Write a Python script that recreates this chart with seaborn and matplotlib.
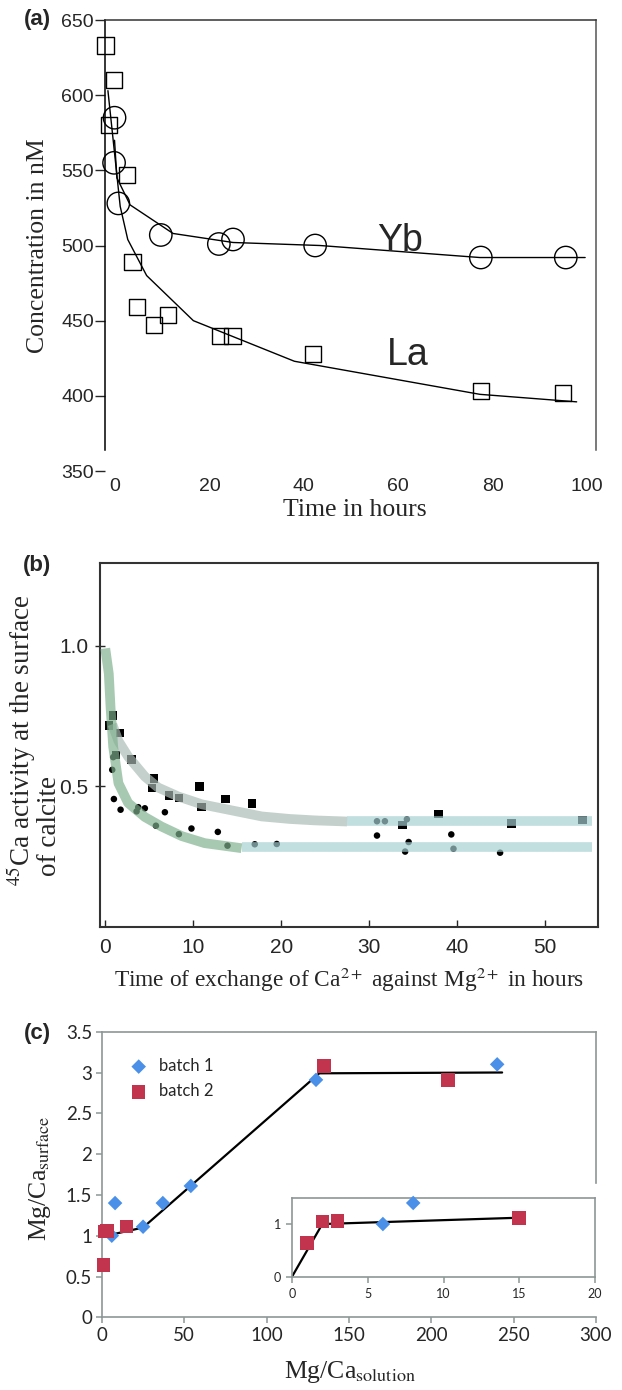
import numpy as np
import pandas as pd
import matplotlib
matplotlib.use("Agg")
import matplotlib.pyplot as plt
import seaborn as sns

sns.set_style("white")
plt.rcParams["font.family"] = ["Liberation Sans", "DejaVu Sans"]
plt.rcParams["mathtext.fontset"] = "stix"

# ---------------- data: panel (a) ----------------
la_time = [-2.0, -0.3, -1.3, 2.5, 3.7, 4.7, 8.3, 11.3, 22.2, 24.9, 42.0, 77.5, 95.0]
la_conc = [633, 610, 580, 547, 489, 459, 447, 454, 440, 440, 428, 403, 402]
yb_time = [-0.1, -0.2, 0.7, 9.7, 22.0, 25.0, 42.4, 77.5, 95.5]
yb_conc = [585, 555, 528, 507, 501, 504, 500, 492, 492]
la_fit_time = [-1.5, 1.1, 2.7, 6.7, 16.6, 38.0, 77.3, 97.8]
la_fit_conc = [603, 526, 504, 480, 450, 423, 401, 396]
yb_fit_time = [-0.1, 0.4, 3.2, 12.3, 25.0, 43.4, 77.3, 99.6]
yb_fit_conc = [570, 545, 527, 508, 502, 500, 492, 492]
a_yticks = [350, 400, 450, 500, 550, 600, 650]
a_xticks = [0, 20, 40, 60, 80, 100]

# ---------------- data: panel (b) ----------------
sq_time = [0.9, 0.4, 1.66, 1.2, 3.0, 5.56, 5.3, 7.24, 8.4, 10.7, 10.95, 13.7, 16.7,
           33.8, 37.9, 46.2, 54.3]
sq_act = [0.752, 0.715, 0.689, 0.610, 0.594, 0.528, 0.493, 0.467, 0.457, 0.499, 0.425,
          0.454, 0.439, 0.362, 0.400, 0.366, 0.380]
ci_time = [0.98, 1.74, 0.79, 0.9, 3.75, 3.56, 4.5, 5.76, 6.78, 8.37, 9.8, 12.8, 13.9,
           17.0, 19.5, 30.9, 31.8, 34.3, 30.9, 34.5, 34.1, 39.35, 39.6, 44.9]
ci_act = [0.454, 0.416, 0.558, 0.603, 0.425, 0.410, 0.421, 0.359, 0.407, 0.329, 0.349,
          0.337, 0.288, 0.293, 0.294, 0.375, 0.375, 0.382, 0.324, 0.301, 0.267, 0.328,
          0.277, 0.263]
band_up_time = [0.8, 1.5, 2.6, 4.5, 6.0, 8.3, 11.0, 14.0, 17.8, 21.0, 23.8, 27.5]
band_up_act = [0.72, 0.66, 0.605, 0.534, 0.495, 0.463, 0.435, 0.416, 0.392, 0.383, 0.378, 0.374]
band_up_tail_time = [27.5, 55.4]
band_up_tail_act = [0.377, 0.377]
band_lo_time = [0.0, 0.4, 0.6, 0.9, 1.5, 2.6, 4.5, 6.4, 8.7, 11.3, 15.5]
band_lo_act = [0.99, 0.90, 0.78, 0.64, 0.51, 0.44, 0.39, 0.356, 0.322, 0.297, 0.279]
band_lo_tail_time = [15.5, 55.4]
band_lo_tail_act = [0.283, 0.283]
b_yticks = [0.5, 1.0]
b_xticks = [0, 10, 20, 30, 40, 50]

# ---------------- data: panel (c) ----------------
b1_sol = [6, 8, 25, 37, 54, 130, 240]
b1_surf = [1.0, 1.4, 1.11, 1.4, 1.61, 2.91, 3.10]
b2_sol = [1, 2, 3, 15, 135, 210]
b2_surf = [0.64, 1.05, 1.06, 1.11, 3.08, 2.91]
c_fit_sol = [5, 25, 132, 243]
c_fit_surf = [1.01, 1.10, 2.99, 3.00]
inset_fit_sol = [0, 2, 15]
inset_fit_surf = [0.0, 1.0, 1.12]
c_yticks = [0, 0.5, 1, 1.5, 2, 2.5, 3, 3.5]
c_xticks = [0, 50, 100, 150, 200, 250, 300]
inset_xticks = [0, 5, 10, 15, 20]
inset_yticks = [0, 1]

# ---------------- layout helpers ----------------
W, H = 622, 1390
fig = plt.figure(figsize=(W / 100, H / 100), dpi=100)


def rect(l, t, r, b):
    return [l / W, 1 - b / H, (r - l) / W, (b - t) / H]


def fx(px):
    return px / W


def fy(py):
    return 1 - py / H


NARROW = ["Liberation Sans Narrow", "Liberation Sans"]
SANS = ["Liberation Sans", "DejaVu Sans"]
SERIF = ["Liberation Serif", "DejaVu Serif"]
CAL = ["Lato", "DejaVu Sans"]

# ================= panel (a) =================
axa = fig.add_axes(rect(105, 20, 596, 471))
axa.set_xlim(-2.12, 101.9)
axa.set_ylim(350, 650)
sns.lineplot(x=la_fit_time, y=la_fit_conc, ax=axa, color="black", lw=1.0,
             estimator=None, sort=False)
sns.lineplot(x=yb_fit_time, y=yb_fit_conc, ax=axa, color="black", lw=1.0,
             estimator=None, sort=False)
sns.scatterplot(x=la_time, y=la_conc, ax=axa, marker="s", s=135, facecolor="none",
                edgecolor="black", linewidth=1.0, zorder=3, clip_on=False)
sns.scatterplot(x=yb_time, y=yb_conc, ax=axa, marker="o", s=260, facecolor="none",
                edgecolor="black", linewidth=1.0, zorder=3, clip_on=False)
axa.text(60.5, 503, "Yb", fontsize=27, family=SANS, ha="center", va="center")
axa.text(62, 427, "La", fontsize=27, family=SANS, ha="center", va="center")
axa.spines["bottom"].set_visible(False)
for s in ["left", "right"]:
    axa.spines[s].set_bounds(364, 650)
axa.spines["left"].set_color("black")
axa.spines["right"].set_color("#555555")
axa.spines["top"].set_color("#333333")
for s in axa.spines.values():
    s.set_linewidth(1.1)
axa.set_yticks(a_yticks)
axa.set_yticklabels([str(v) for v in a_yticks], family=NARROW, fontsize=14)
axa.set_xticks(a_xticks)
axa.set_xticklabels([str(v) for v in a_xticks], family=SANS, fontsize=14)
axa.tick_params(axis="y", direction="out", length=7, width=1, pad=1, left=True)
axa.tick_params(axis="x", length=0, pad=5)
axa.set_xlabel("")
axa.set_ylabel("")
fig.text(fx(38), fy(246), "Concentration in nM", rotation=90, family=SERIF,
         fontsize=18.5, ha="center", va="center")
fig.text(fx(355), fy(510), "Time in hours", family=SERIF, fontsize=18.5,
         ha="center", va="center")
fig.text(fx(37), fy(20), "(a)", family=SANS, fontweight="bold", fontsize=16,
         ha="center", va="center")

# ================= panel (b) =================
axb = fig.add_axes(rect(100, 562.7, 597.7, 926.6))
axb.set_xlim(-0.6, 56.0)
axb.set_ylim(0, 1.295)
sns.scatterplot(x=sq_time, y=sq_act, ax=axb, marker="s", s=38, color="black",
                edgecolor="none", zorder=2)
sns.scatterplot(x=ci_time, y=ci_act, ax=axb, marker="o", s=22, color="black",
                edgecolor="none", zorder=2)
band_kw = dict(lw=7.0, alpha=0.68, estimator=None, sort=False, zorder=4,
               solid_capstyle="butt")
sns.lineplot(x=band_up_time, y=band_up_act, ax=axb, color="#a9bab5", **band_kw)
sns.lineplot(x=band_up_tail_time, y=band_up_tail_act, ax=axb, color="#a6d0d2", **band_kw)
sns.lineplot(x=band_lo_time, y=band_lo_act, ax=axb, color="#7eb08d", **band_kw)
sns.lineplot(x=band_lo_tail_time, y=band_lo_tail_act, ax=axb, color="#a6d0d2", **band_kw)
for s in axb.spines.values():
    s.set_color("#333333")
    s.set_linewidth(1.5)
axb.set_yticks(b_yticks)
axb.set_yticklabels(["%.1f" % v for v in b_yticks], family=NARROW, fontsize=15)
axb.set_xticks(b_xticks)
axb.set_xticklabels([str(v) for v in b_xticks], family=NARROW, fontsize=15)
axb.tick_params(axis="y", direction="inout", length=7, width=1, pad=5, left=True)
axb.tick_params(axis="x", direction="in", length=5, width=1, pad=8, bottom=True)
axb.set_xlabel("")
axb.set_ylabel("")
fig.text(fx(21), fy(740), r"$^{45}$Ca activity at the surface", rotation=90,
         family=SERIF, fontsize=19.5, ha="center", va="center")
fig.text(fx(49), fy(826), "of calcite", rotation=90, family=SERIF, fontsize=19.5,
         ha="center", va="center")
fig.text(fx(349), fy(980), r"Time of exchange of Ca$^{2+}$ against Mg$^{2+}$ in hours",
         family=SERIF, fontsize=16.8, ha="center", va="center")
fig.text(fx(37), fy(565), "(b)", family=SANS, fontweight="bold", fontsize=16,
         ha="center", va="center")

# ================= panel (c) =================
GRAY = "#8c9696"
BLUE = "#4a8fe8"
RED = "#c2334d"
axc = fig.add_axes(rect(101.9, 1031.7, 596, 1317.3))
axc.set_xlim(0, 300)
axc.set_ylim(0, 3.5)
sns.lineplot(x=c_fit_sol, y=c_fit_surf, ax=axc, color="black", lw=1.6,
             estimator=None, sort=False, zorder=2)
sns.scatterplot(x=b1_sol, y=b1_surf, ax=axc, marker="D", s=55, color=BLUE,
                edgecolor="none", zorder=3, label="batch 1", clip_on=False)
sns.scatterplot(x=b2_sol, y=b2_surf, ax=axc, marker="s", s=95, color=RED,
                edgecolor="none", zorder=3, label="batch 2", clip_on=False)
for s in axc.spines.values():
    s.set_color(GRAY)
    s.set_linewidth(1.2)
axc.spines["right"].set_bounds(1.65, 3.5)
axc.set_yticks(c_yticks)
axc.set_yticklabels(["%g" % v for v in c_yticks], family=CAL, fontsize=13.5)
axc.set_xticks(c_xticks)
axc.set_xticklabels([str(v) for v in c_xticks], family=CAL, fontsize=13.5)
axc.tick_params(axis="both", direction="out", length=4, width=1.1, color=GRAY,
                left=True, bottom=True, pad=3)
axc.set_xlabel("")
axc.set_ylabel("")
leg = axc.legend(loc="upper left", bbox_to_anchor=(0.061, 0.908), frameon=False,
                 handlelength=0.8, handletextpad=0.8, labelspacing=0.55,
                 borderpad=0, borderaxespad=0, prop={"family": CAL, "size": 12})

axi = fig.add_axes(rect(292, 1197.7, 595, 1276.7))
axi.set_facecolor("white")
axi.set_xlim(0, 20)
axi.set_ylim(0, 1.5)
sns.lineplot(x=inset_fit_sol, y=inset_fit_surf, ax=axi, color="black", lw=1.6,
             estimator=None, sort=False, zorder=2)
in_b1 = [(x, y) for x, y in zip(b1_sol, b1_surf) if x <= 20]
in_b2 = [(x, y) for x, y in zip(b2_sol, b2_surf) if x <= 20]
sns.scatterplot(x=[p[0] for p in in_b1], y=[p[1] for p in in_b1], ax=axi, marker="D",
                s=55, color=BLUE, edgecolor="none", zorder=3, clip_on=False)
sns.scatterplot(x=[p[0] for p in in_b2], y=[p[1] for p in in_b2], ax=axi, marker="s",
                s=95, color=RED, edgecolor="none", zorder=3, clip_on=False)
for s in axi.spines.values():
    s.set_color(GRAY)
    s.set_linewidth(1.2)
axi.set_xticks(inset_xticks)
axi.set_xticklabels([str(v) for v in inset_xticks], family=CAL, fontsize=9)
axi.set_yticks(inset_yticks)
axi.set_yticklabels([str(v) for v in inset_yticks], family=CAL, fontsize=9)
axi.tick_params(axis="both", direction="out", length=4, width=1.1, color=GRAY,
                left=True, bottom=True, pad=4)
axi.set_xlabel("")
axi.set_ylabel("")

fig.text(fx(40), fy(1178), r"Mg/Ca$_{\mathrm{surface}}$", rotation=90, family=SERIF,
         fontsize=18.5, ha="center", va="center")
fig.text(fx(350), fy(1372), r"Mg/Ca$_{\mathrm{solution}}$", family=SERIF,
         fontsize=18.5, ha="center", va="center")
fig.text(fx(37), fy(1033), "(c)", family=SANS, fontweight="bold", fontsize=16,
         ha="center", va="center")

fig.savefig("out.png", dpi=100)
